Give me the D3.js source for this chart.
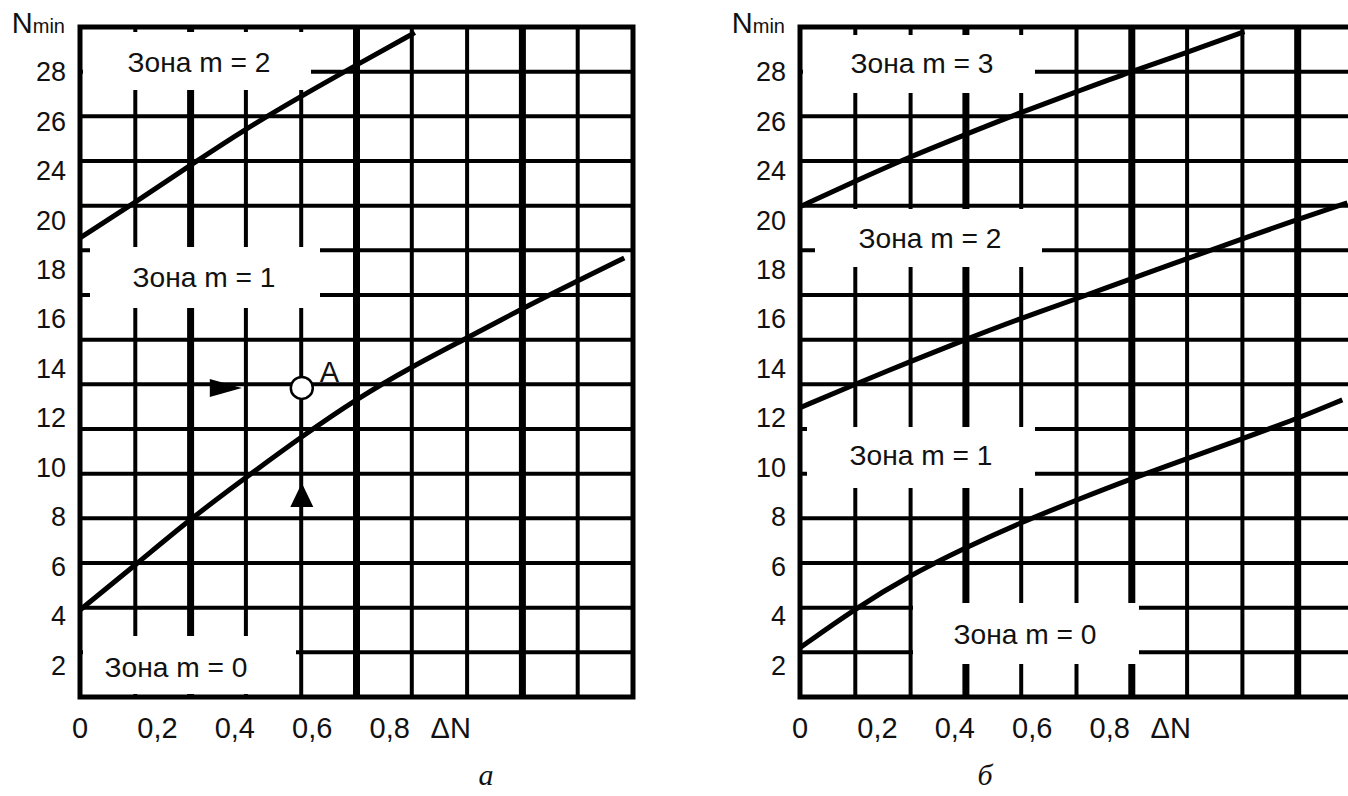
<!DOCTYPE html>
<html>
<head>
<meta charset="utf-8">
<script src="https://cdn.jsdelivr.net/npm/d3@7"></script>
<style>
  body { margin: 0; background: #fff; }
  svg text { font-family: "Liberation Sans", Arial, sans-serif; fill: #111; }
</style>
</head>
<body>
<div id="chart"></div>
<script>
"use strict"

// tick labels; the original figure jumps from 20 to 24 on the N axis
const yTickValues = [2, 4, 6, 8, 10, 12, 14, 16, 18, 20, 22, 24, 26];
const yTickLabels = ["2", "4", "6", "8", "10", "12", "14", "16", "18", "20", "24", "26", "28"];
const xTickValues = [0, 0.2, 0.4, 0.6, 0.8];
const xTickLabels = ["0", "0,2", "0,4", "0,6", "0,8"];

// panel а : zone borders
const dnA01 = [0, 0.147, 0.289, 0.431, 0.575, 0.715, 0.857, 1.001, 1.141, 1.285, 1.406];
const nA01 = [4.22, 6.09, 7.95, 9.61, 11.26, 12.76, 14.06, 15.23, 16.40, 17.53, 18.46];
const dnA12 = [0, 0.145, 0.287, 0.428, 0.573, 0.715, 0.865];
const nA12 = [19.27, 20.73, 22.23, 23.68, 25.02, 26.27, 27.57];

// panel б
const dnB01 = [0, 0.142, 0.286, 0.426, 0.568, 0.715, 0.854, 0.999, 1.141, 1.283, 1.401];
const nB01 = [2.69, 4.27, 5.64, 6.73, 7.74, 8.67, 9.52, 10.33, 11.14, 11.95, 12.72];
const dnB12 = [0, 0.139, 0.284, 0.426, 0.568, 0.715, 0.854, 0.999, 1.141, 1.283, 1.414];
const nB12 = [12.40, 13.33, 14.26, 15.15, 16.00, 16.81, 17.61, 18.42, 19.23, 20.00, 20.69];
const dnB23 = [0, 0.139, 0.284, 0.426, 0.568, 0.715, 0.854, 0.999, 1.148];
const nB23 = [20.53, 21.54, 22.55, 23.44, 24.33, 25.18, 25.99, 26.76, 27.61];

const zonesA = ["Зона m = 2", "Зона m = 1", "Зона m = 0"];
const zonesB = ["Зона m = 3", "Зона m = 2", "Зона m = 1", "Зона m = 0"];

// point A and the two arrows pointing at it (panel а)
const pointA = { dn: 0.573, n: 13.2 };
const arrowRight = { dn: 0.418, n: 13.2 };
const arrowUp = { dn: 0.573, n: 9.36 };

const captions = ["а", "б"];

// layout
let width = 1348, height = 796;
let plotTop = 27, plotW = 553, plotH = 670;
let cols = 10, rows = 15;

let x = d3.scaleLinear().domain([0, 10 / 7]).range([0, plotW]);
let y = d3.scaleLinear().domain([0.7, 27.8]).range([plotH, 0]);
let gx = d3.scaleLinear().domain([0, cols]).range([0, plotW]);
let gy = d3.scaleLinear().domain([0, rows]).range([0, plotH]);

// white boxes behind the zone names, px inside the frame: [x0, y0, x1, y1], then label centre / baseline
let panels = [
  {
    left: 80, thick: [2, 5, 8], caption: 406,
    curves: [[dnA01, nA01], [dnA12, nA12]],
    zones: zonesA,
    boxes: [[3, 5, 231, 63], [10, 220, 240, 281], [3, 609, 216, 667]],
    labels: [[119, 45], [124, 260], [96, 650]],
    marker: true
  },
  {
    left: 800, thick: [3, 6, 9], caption: 185,
    curves: [[dnB01, nB01], [dnB12, nB12], [dnB23, nB23]],
    zones: zonesB,
    boxes: [[3, 8, 235, 66], [15, 182, 242, 240], [7, 400, 235, 461], [113, 576, 339, 637]],
    labels: [[122, 46], [130, 221], [121, 438], [225, 617]],
    marker: false
  }
];

let svg = d3.select("#chart")
            .append("svg")
            .attr("width", width)
            .attr("height", height)
            .style("background", "#fff");

panels.forEach(function(p, i) {
  let g = svg.append("g")
             .attr("transform", "translate(" + p.left + "," + plotTop + ")");

  // grid
  g.selectAll(".vline")
    .data(d3.range(1, cols))
    .enter().append("line")
    .attr("x1", d => gx(d)).attr("x2", d => gx(d))
    .attr("y1", 0).attr("y2", plotH)
    .attr("stroke", "#000")
    .attr("stroke-width", d => p.thick.includes(d) ? 7 : 4);

  g.selectAll(".hline")
    .data(d3.range(1, rows))
    .enter().append("line")
    .attr("x1", 0).attr("x2", plotW)
    .attr("y1", d => gy(d)).attr("y2", d => gy(d))
    .attr("stroke", "#000")
    .attr("stroke-width", 4);

  g.append("rect")
    .attr("width", plotW).attr("height", plotH)
    .attr("fill", "none")
    .attr("stroke", "#000")
    .attr("stroke-width", 5);

  // boxes masking the grid under zone names
  g.selectAll(".box")
    .data(p.boxes)
    .enter().append("rect")
    .attr("x", d => d[0]).attr("y", d => d[1])
    .attr("width", d => d[2] - d[0]).attr("height", d => d[3] - d[1])
    .attr("fill", "#fff");

  g.selectAll(".zone")
    .data(p.zones)
    .enter().append("text")
    .attr("x", (d, k) => p.labels[k][0])
    .attr("y", (d, k) => p.labels[k][1])
    .attr("text-anchor", "middle")
    .attr("textLength", 143)
    .attr("lengthAdjust", "spacingAndGlyphs")
    .style("font-size", "28px")
    .text(d => d);

  // zone borders
  let line = d3.line()
               .x(d => x(d[0]))
               .y(d => y(d[1]))
               .curve(d3.curveBasis);

  p.curves.forEach(function(c) {
    g.append("path")
      .datum(d3.zip(c[0], c[1]))
      .attr("d", line)
      .attr("fill", "none")
      .attr("stroke", "#000")
      .attr("stroke-width", 5);
  });

  if (p.marker) {
    let tx = x(arrowRight.dn), ty = y(arrowRight.n);
    g.append("path")
      .attr("d", "M" + tx + "," + ty + "L" + (tx - 32) + "," + (ty - 9) + "L" + (tx - 32) + "," + (ty + 9) + "Z")
      .attr("fill", "#000");
    let ux = x(arrowUp.dn), uy = y(arrowUp.n);
    g.append("path")
      .attr("d", "M" + ux + "," + uy + "L" + (ux - 11.5) + "," + (uy + 24) + "L" + (ux + 11.5) + "," + (uy + 24) + "Z")
      .attr("fill", "#000");
    g.append("circle")
      .attr("cx", x(pointA.dn)).attr("cy", y(pointA.n))
      .attr("r", 11)
      .attr("fill", "#fff")
      .attr("stroke", "#000")
      .attr("stroke-width", 2.5);
    g.append("text")
      .attr("x", x(pointA.dn) + 18).attr("y", y(pointA.n) - 6)
      .style("font-size", "29px")
      .text("A");
  }

  // axes labels
  g.selectAll(".ytick")
    .data(yTickValues)
    .enter().append("text")
    .attr("x", -14)
    .attr("y", d => y(d))
    .attr("dy", "0.36em")
    .attr("text-anchor", "end")
    .style("font-size", "27px")
    .text((d, k) => yTickLabels[k]);

  let nLabel = g.append("text")
                .attr("x", -15).attr("y", 6)
                .attr("text-anchor", "end");
  nLabel.append("tspan").style("font-size", "29px").text("N");
  nLabel.append("tspan").style("font-size", "20px").text("min");

  g.selectAll(".xtick")
    .data(xTickValues)
    .enter().append("text")
    .attr("x", d => x(d))
    .attr("y", plotH + 41)
    .attr("text-anchor", "middle")
    .style("font-size", "29px")
    .text((d, k) => xTickLabels[k]);

  g.append("text")
    .attr("x", x(0.8) + 61)
    .attr("y", plotH + 41)
    .attr("text-anchor", "middle")
    .style("font-size", "29px")
    .text("ΔN");

  g.append("text")
    .attr("x", p.caption)
    .attr("y", plotH + 88)
    .attr("text-anchor", "middle")
    .style("font-family", '"Liberation Serif", serif')
    .style("font-style", "italic")
    .style("font-size", "30px")
    .text(captions[i]);
});
</script>
</body>
</html>
